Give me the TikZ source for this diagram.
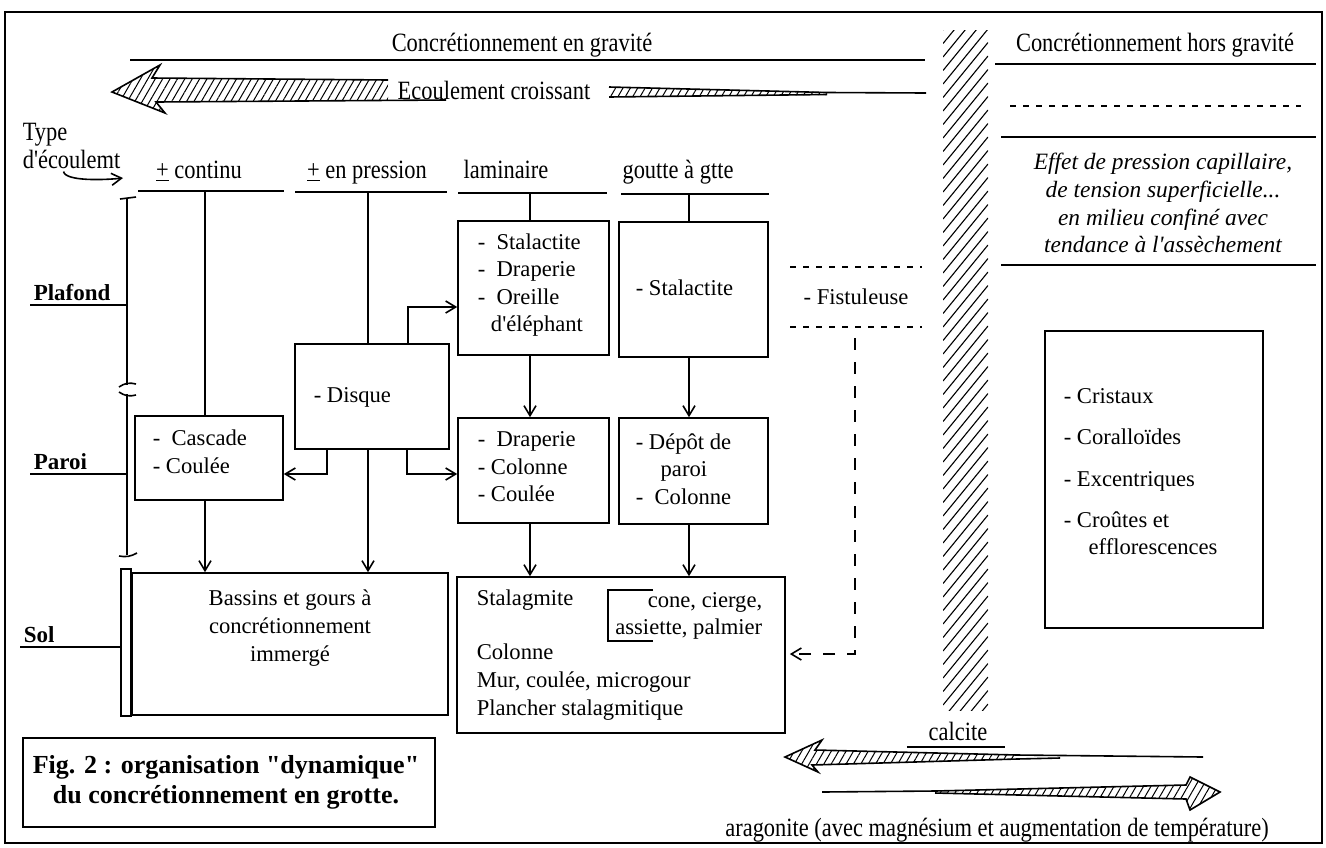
\documentclass[tikz,border=0pt]{standalone}
\usepackage{fontspec}
\usetikzlibrary{arrows.meta, positioning, calc, fit, patterns.meta}
\newfontfamily\grotfont{Liberation Serif}
\newfontfamily\grotnarrow[FakeStretch=0.85]{Liberation Serif}

\begin{document}
\begin{tikzpicture}[
  x=0.5pt, y=-0.5pt, line width=0.8pt,
  txt/.style={font=\grotfont\fontsize{11.3pt}{13.8pt}\selectfont, inner sep=1pt, align=left},
  ntxt/.style={font=\grotnarrow\fontsize{13.2pt}{14pt}\selectfont, inner sep=1pt},
  head/.style={ntxt, anchor=base},
  cbox/.style={draw, inner sep=0pt},
  lvl/.style={font=\grotfont\bfseries\fontsize{11.5pt}{13pt}\selectfont, inner sep=1.5pt, anchor=south west},
  arr/.style={-{Straight Barb[length=5pt,width=6pt]}},
  hatch/.style={pattern={Lines[angle=60,distance=3.2pt,line width=0.5pt]}},
  sdash/.style={dash pattern=on 3pt off 3.5pt},
  ldash/.style={dash pattern=on 6pt off 6pt}
]
  \useasboundingbox (0,0) rectangle (1326,847);
  \draw (5,12) rectangle (1322,843);

  % en gravite / hors gravite
  \node[ntxt] (grav) at (522,45) {Concrétionnement en gravité};
  \draw (130,60) -- (925,60);
  \node[ntxt] (ecoul) at (494,90) {Ecoulement croissant};
  \fill[hatch] (388,80) -- (152,78) -- (160,65) -- (112,92) -- (165,113) -- (156,102) -- (388,100) -- cycle;
  \draw (388,80) -- (152,78) -- (160,65) -- (112,92) -- (165,113) -- (156,102) -- (446,100);
  \fill[hatch] (609,87) -- (827,92) -- (827,95) -- (609,97) -- cycle;
  \draw (609,87) -- (827,92.5) -- (926,93);
  \draw (609,97) -- (827,94.5);

  \node[ntxt] (hors) at (1155,45) {Concrétionnement hors gravité};
  \draw (995,64) -- (1316,64);
  \draw[sdash] (1010,106) -- (1301,106);
  \draw (1001,137) -- (1316,137);
  \node[font=\grotfont\itshape\fontsize{11.7pt}{13.9pt}\selectfont, align=center] (effet) at (1163,203)
    {Effet de pression capillaire,\\de tension superficielle...\\en milieu confiné avec\\tendance à l'assèchement};
  \draw (1001,265) -- (1316,265);

  \begin{scope}
    \clip (943,30) rectangle (988,710);
    \foreach \k in {0,...,56} \draw[line width=0.55pt] (943,{30+13.5*\k}) -- ++(45,-55);
  \end{scope}

  % types d'ecoulement
  \node[ntxt, align=left, anchor=west] (typ) at (20,146) {Type\\d'écoulemt};
  \coordinate (typend) at (123,178);
  \draw[arr] ([xshift=-4pt]typ.south) .. controls +(2,10) and +(-18,2) .. (typend);
  \node[head] (hcont) at (199,178) {\underline{+} continu};
  \node[head] (hpres) at (367,178) {\underline{+} en pression};
  \node[head] (hlam) at (506,178) {laminaire};
  \node[head] (hgtt) at (678,178) {goutte à gtte};
  \draw (138,191) -- (284,191);
  \draw (295,192) -- (447,192);
  \draw (458,193) -- (607,193);
  \draw (621,194) -- (769,194);
  \coordinate (kcont) at (205,191);
  \coordinate (kpres) at (368,192);
  \coordinate (klam) at (530,193);
  \coordinate (kgtt) at (689,194);

  % plafond / paroi / sol
  \coordinate (ax) at (127,198);
  \draw (ax) -- (127,385);
  \draw (127,394) -- (127,555);
  \draw (120,199) -- (136,197);
  \draw (119,387) to[bend left=25] (136,384);
  \draw (119,392) to[bend right=25] (136,395);
  \draw (119,556) to[bend right=20] (137,553);
  \node[lvl] (plaf) at (30,305) {Plafond};
  \draw (plaf.south west) -- (ax |- plaf.south west);
  \node[lvl] (paroi) at (30,474) {Paroi};
  \draw (paroi.south west) -- (ax |- paroi.south west);

  % boites
  \node[cbox, fit={(135,416) (283,500)}] (casc) {};
  \node[txt, anchor=west] (casct) at (150,452) {-\ \ Cascade\\- Coulée};
  \node[cbox, fit={(295,344) (449,449)}] (disq) {};
  \node[txt, anchor=west] (disqt) at (311,397) {- Disque};
  \node[cbox, fit={(458,221) (609,355)}] (lam1) {};
  \node[txt, anchor=west] (lam1t) at (475,285) {-\ \ Stalactite\\-\ \ Draperie\\-\ \ Oreille\\\hphantom{-\ }d'éléphant};
  \node[cbox, fit={(619,222) (768,357)}] (gtt1) {};
  \node[txt, anchor=west] (gtt1t) at (633,288) {- Stalactite};
  \node[cbox, fit={(458,418) (609,523)}] (lam2) {};
  \node[txt, anchor=west] (lam2t) at (475,467) {-\ \ Draperie\\- Colonne\\- Coulée};
  \node[cbox, fit={(619,418) (768,524)}] (gtt2) {};
  \node[txt, anchor=west] (gtt2t) at (633,469) {- Dépôt de\\\hspace{1.1em}paroi\\-\ \ Colonne};

  \node[cbox, fit={(132,573) (448,715)}] (bass) {};
  \node[txt, align=center] (basst) at (290,628) {Bassins et gours à\\concrétionnement\\immergé};
  \draw ([xshift=-5pt, yshift=1.5pt]bass.north west) rectangle (bass.south west);
  \node[lvl] (sol) at (20,647) {Sol};
  \draw (sol.south west) -- ([xshift=-5pt]bass.west |- sol.south west);

  \node[cbox, fit={(457,577) (785,733)}] (stal) {};
  \node[txt, anchor=west] (stal1) at (474,600) {Stalagmite};
  \node[txt, align=right, anchor=east] (stalf) at (765,616) {cone, cierge,\\assiette, palmier};
  \draw (653,590) -| (608,641) -- (653,641);
  \node[txt, anchor=west] (stal2) at (474,682) {Colonne\\Mur, coulée, microgour\\Plancher stalagmitique};

  \node[cbox, fit={(1045,331) (1263,628)}] (cris) {};
  \node[txt, anchor=west] (crist) at (1061,472)
    {- Cristaux\\[6.8pt]- Coralloïdes\\[6.8pt]- Excentriques\\[6.8pt]- Croûtes et\\\hspace{1.1em}efflorescences};

  % liaisons
  \draw (kcont) -- (kcont |- casc.north);
  \draw (kpres) -- (kpres |- disq.north);
  \draw (klam) -- (klam |- lam1.north);
  \draw (kgtt) -- (kgtt |- gtt1.north);
  \draw[arr] (klam |- lam1.south) -- (klam |- lam2.north);
  \draw[arr] (kgtt |- gtt1.south) -- (kgtt |- gtt2.north);
  \draw[arr] (klam |- lam2.south) -- (klam |- stal.north);
  \draw[arr] (kgtt |- gtt2.south) -- (kgtt |- stal.north);
  \draw[arr] (kcont |- casc.south) -- (kcont |- bass.north);
  \draw[arr] (kpres |- disq.south) -- (kpres |- bass.north);
  \coordinate (dq1) at (408,307);
  \draw[arr] (dq1 |- disq.north) |- (lam1.west |- dq1);
  \coordinate (dq2) at (327,474);
  \draw[arr] (dq2 |- disq.south) |- (casc.east |- dq2);
  \coordinate (dq3) at (407,474);
  \draw[arr] (dq3 |- disq.south) |- (lam2.west |- dq3);

  % fistuleuse
  \draw[sdash] (790,267) -- (922,267);
  \draw[sdash] (790,327) -- (922,327);
  \node[txt] (fist) at (856,297) {- Fistuleuse};
  \coordinate (fq) at (855,338);
  \coordinate (fq2) at (855,654);
  \draw[arr, ldash, shorten >=2pt] (fq) -- (fq2) -- (stal.east |- fq2);

  % calcite / aragonite
  \node[ntxt] (calc) at (958,731) {calcite};
  \draw ([xshift=-9.5pt, yshift=-2pt]calc.south west) -- ([xshift=7.5pt, yshift=-2pt]calc.south east);
  \fill[hatch] (1017,755) -- (815,750) -- (822,740) -- (785,757) -- (818,772) -- (812,765) -- (1017,759) -- cycle;
  \draw (1203,757) -- (1017,755) -- (815,750) -- (822,740) -- (785,757) -- (818,772) -- (812,765) -- (1017,759) -- (1060,758);
  \fill[hatch] (935,791) -- (1186,785) -- (1190,777) -- (1220,792) -- (1190,810) -- (1186,799) -- (935,793) -- cycle;
  \draw (822,792) -- (935,791) -- (1186,785) -- (1190,777) -- (1220,792) -- (1190,810) -- (1186,799) -- (935,793);
  \node[ntxt] (arag) at (997,830) {aragonite (avec magnésium et augmentation de température)};

  \node[cbox, fit={(23,738) (435,827)}] (fig) {};
  \node[font=\grotfont\bfseries\fontsize{13pt}{15pt}\selectfont, align=center] (figt) at (226,782)
    {Fig. 2 : organisation "dynamique"\\du concrétionnement en grotte.};
\end{tikzpicture}
\end{document}
